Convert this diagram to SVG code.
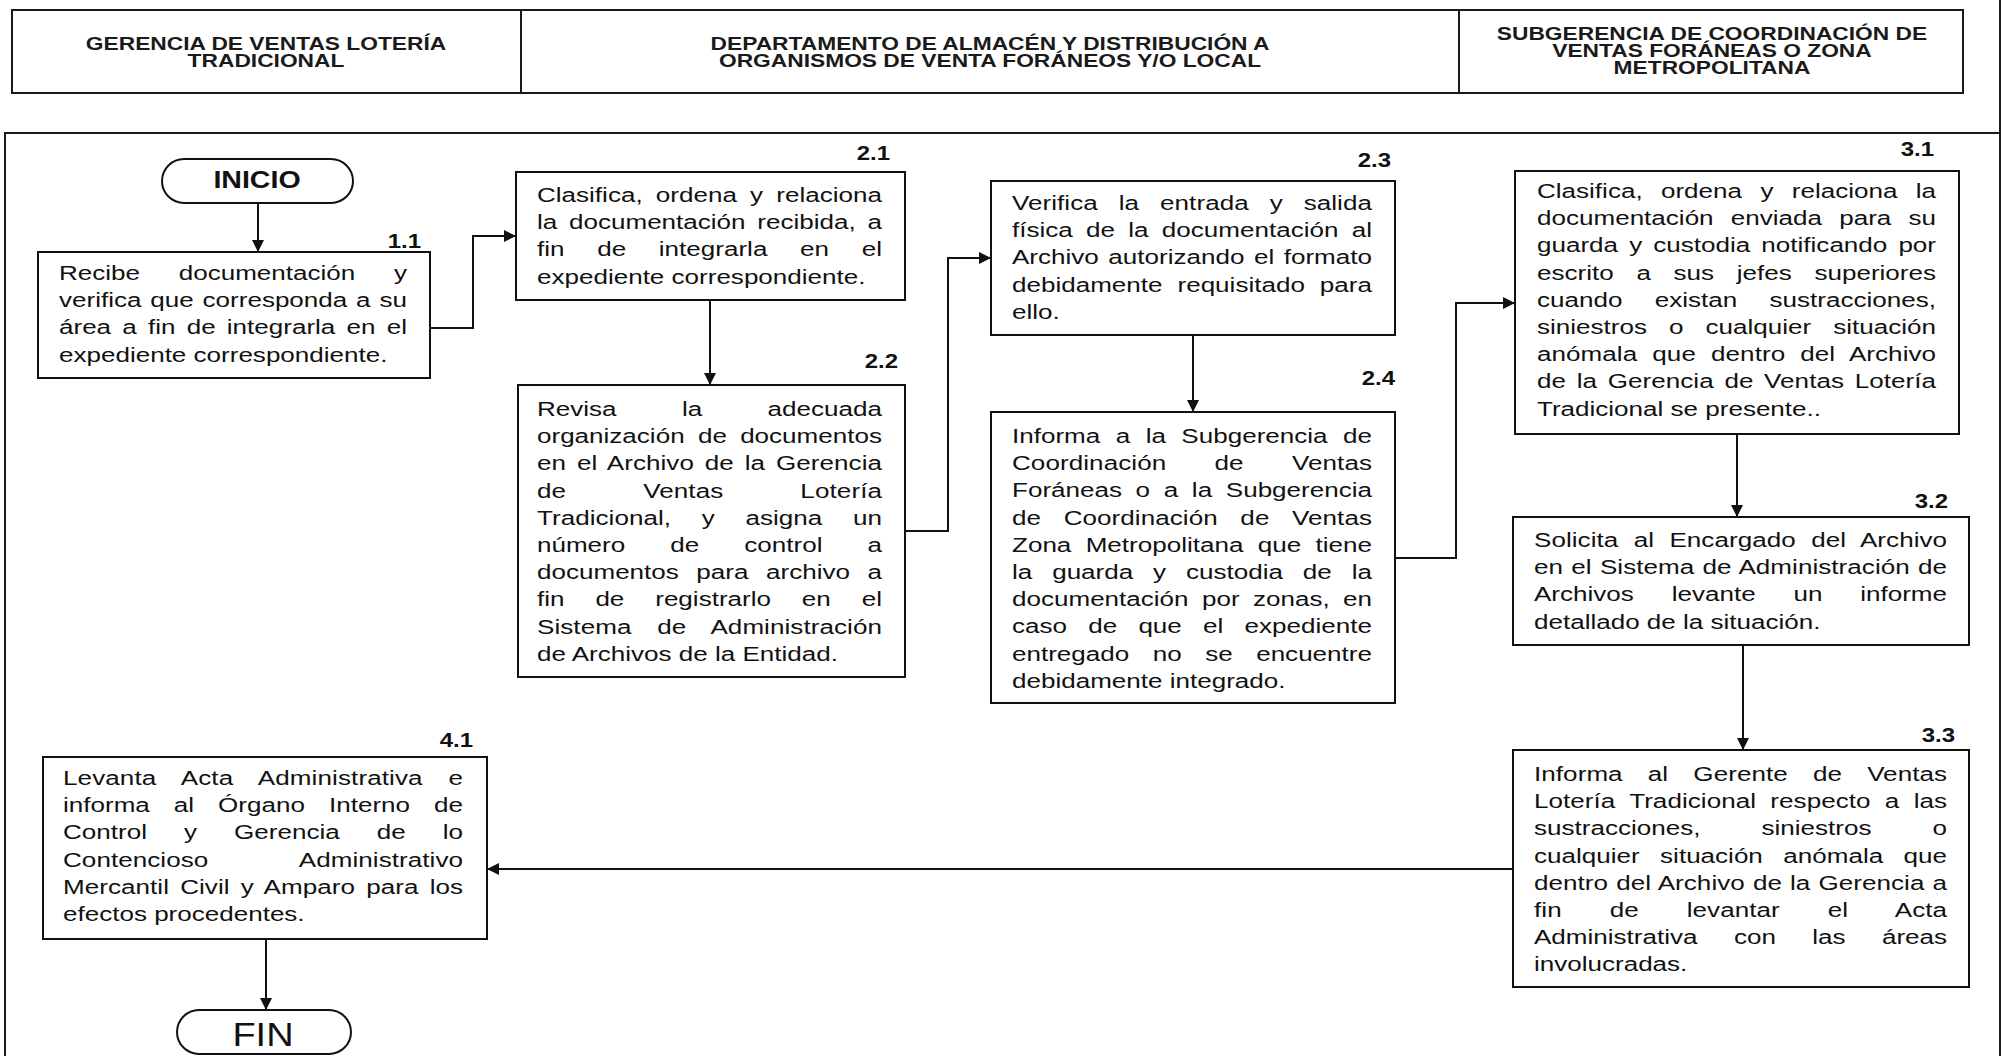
<svg xmlns="http://www.w3.org/2000/svg" width="2002" height="1056" viewBox="0 0 2002 1056">
<style>
.bg{fill:#fff}
.frame{fill:none;stroke:#1a1a1a;stroke-width:2}
.box{fill:#fff;stroke:#111;stroke-width:2}
.term{fill:#fff;stroke:#111;stroke-width:2}
.h{font-family:"Liberation Sans",Arial,sans-serif;font-size:18px;font-weight:bold;fill:#1a1a1a;text-anchor:middle}
.t{font-family:"Liberation Sans",Arial,sans-serif;font-size:21px;fill:#111}
.lb{font-family:"Liberation Sans",Arial,sans-serif;font-size:20px;font-weight:bold;fill:#111;text-anchor:end}
.ti{font-family:"Liberation Sans",Arial,sans-serif;font-size:24px;font-weight:bold;fill:#111;text-anchor:middle}
.tf{font-family:"Liberation Sans",Arial,sans-serif;font-size:33px;fill:#111;text-anchor:middle}
.conn{fill:none;stroke:#111;stroke-width:2}
</style>
<defs>
<marker id="arr" markerUnits="userSpaceOnUse" markerWidth="14" markerHeight="14" refX="12" refY="6" orient="auto">
<path d="M0,0 L12,6 L0,12 z" fill="#111"/>
</marker>
</defs>
<rect class="bg" x="0" y="0" width="2002" height="1056"/>

<g id="header">
<rect class="frame" x="12" y="10" width="1951" height="83"/>
<line class="frame" x1="521" y1="10" x2="521" y2="93"/>
<line class="frame" x1="1459" y1="10" x2="1459" y2="93"/>
<text class="h" transform="translate(266 50) scale(1.265 1)">GERENCIA DE VENTAS LOTERÍA</text>
<text class="h" transform="translate(266 67) scale(1.265 1)">TRADICIONAL</text>
<text class="h" transform="translate(990 50) scale(1.265 1)">DEPARTAMENTO DE ALMACÉN Y DISTRIBUCIÓN A</text>
<text class="h" transform="translate(990 67) scale(1.265 1)">ORGANISMOS DE VENTA FORÁNEOS Y/O LOCAL</text>
<text class="h" transform="translate(1712 40) scale(1.265 1)">SUBGERENCIA DE COORDINACIÓN DE</text>
<text class="h" transform="translate(1712 57) scale(1.265 1)">VENTAS FORÁNEAS O ZONA</text>
<text class="h" transform="translate(1712 74) scale(1.265 1)">METROPOLITANA</text>
</g>

<g id="frame">
<polyline class="frame" points="5,1056 5,133 2000,133"/>
<line class="frame" x1="2000" y1="0" x2="2000" y2="1056"/>
</g>

<g id="connectors">
<path class="conn" d="M258,203 V252" marker-end="url(#arr)"/>
<path class="conn" d="M430,328 H473 V236 H516" marker-end="url(#arr)"/>
<path class="conn" d="M710,300 V385" marker-end="url(#arr)"/>
<path class="conn" d="M905,531 H948 V258 H991" marker-end="url(#arr)"/>
<path class="conn" d="M1193,335 V412" marker-end="url(#arr)"/>
<path class="conn" d="M1395,558 H1456 V303 H1515" marker-end="url(#arr)"/>
<path class="conn" d="M1737,434 V517" marker-end="url(#arr)"/>
<path class="conn" d="M1743,645 V750" marker-end="url(#arr)"/>
<path class="conn" d="M1513,869 H487" marker-end="url(#arr)"/>
<path class="conn" d="M266,939 V1010" marker-end="url(#arr)"/>
</g>

<g id="inicio">
<rect class="term" x="162" y="159" width="191" height="44" rx="22" ry="22"/>
<text class="ti" transform="translate(257 188) scale(1.19 1)">INICIO</text>
</g>

<g id="n1_1">
<rect class="box" x="38" y="252" width="392" height="126"/>
<text class="lb" transform="translate(421 248) scale(1.2 1)">1.1</text>
<g transform="translate(59 0) scale(1.24 1)">
<text class="t" x="0" y="280" word-spacing="25.3" textLength="280.6" lengthAdjust="spacing">Recibe documentación y</text>
<text class="t" x="0" y="307.2" word-spacing="1.29" textLength="280.6" lengthAdjust="spacing">verifica que corresponda a su</text>
<text class="t" x="0" y="334.4" word-spacing="3.19" textLength="280.6" lengthAdjust="spacing">área a fin de integrarla en el</text>
<text class="t" x="0" y="361.6">expediente correspondiente.</text>
</g>
</g>

<g id="n2_1">
<rect class="box" x="516" y="172" width="389" height="128"/>
<text class="lb" transform="translate(890 160) scale(1.2 1)">2.1</text>
<g transform="translate(537 0) scale(1.24 1)">
<text class="t" x="0" y="202" word-spacing="4.82" textLength="278.2" lengthAdjust="spacing">Clasifica, ordena y relaciona</text>
<text class="t" x="0" y="229.2" word-spacing="3.65" textLength="278.2" lengthAdjust="spacing">la documentación recibida, a</text>
<text class="t" x="0" y="256.4" word-spacing="20.5" textLength="278.2" lengthAdjust="spacing">fin de integrarla en el</text>
<text class="t" x="0" y="283.6">expediente correspondiente.</text>
</g>
</g>

<g id="n2_2">
<rect class="box" x="518" y="385" width="387" height="292"/>
<text class="lb" transform="translate(898 368) scale(1.2 1)">2.2</text>
<g transform="translate(537 0) scale(1.24 1)">
<text class="t" x="0" y="416" word-spacing="46.9" textLength="278.2" lengthAdjust="spacing">Revisa la adecuada</text>
<text class="t" x="0" y="443.2" word-spacing="4.88" textLength="278.2" lengthAdjust="spacing">organización de documentos</text>
<text class="t" x="0" y="470.4" word-spacing="2.89" textLength="278.2" lengthAdjust="spacing">en el Archivo de la Gerencia</text>
<text class="t" x="0" y="497.6" word-spacing="56.2" textLength="278.2" lengthAdjust="spacing">de Ventas Lotería</text>
<text class="t" x="0" y="524.8" word-spacing="18.8" textLength="278.2" lengthAdjust="spacing">Tradicional, y asigna un</text>
<text class="t" x="0" y="552" word-spacing="30.5" textLength="278.2" lengthAdjust="spacing">número de control a</text>
<text class="t" x="0" y="579.2" word-spacing="8.32" textLength="278.2" lengthAdjust="spacing">documentos para archivo a</text>
<text class="t" x="0" y="606.4" word-spacing="19.1" textLength="278.2" lengthAdjust="spacing">fin de registrarlo en el</text>
<text class="t" x="0" y="633.6" word-spacing="14.8" textLength="278.2" lengthAdjust="spacing">Sistema de Administración</text>
<text class="t" x="0" y="660.8">de Archivos de la Entidad.</text>
</g>
</g>

<g id="n2_3">
<rect class="box" x="991" y="181" width="404" height="154"/>
<text class="lb" transform="translate(1391 167) scale(1.2 1)">2.3</text>
<g transform="translate(1012 0) scale(1.24 1)">
<text class="t" x="0" y="210" word-spacing="11.0" textLength="290.3" lengthAdjust="spacing">Verifica la entrada y salida</text>
<text class="t" x="0" y="237.2" word-spacing="4.88" textLength="290.3" lengthAdjust="spacing">física de la documentación al</text>
<text class="t" x="0" y="264.4" word-spacing="1.85" textLength="290.3" lengthAdjust="spacing">Archivo autorizando el formato</text>
<text class="t" x="0" y="291.6" word-spacing="6.26" textLength="290.3" lengthAdjust="spacing">debidamente requisitado para</text>
<text class="t" x="0" y="318.8">ello.</text>
</g>
</g>

<g id="n2_4">
<rect class="box" x="991" y="412" width="404" height="291"/>
<text class="lb" transform="translate(1395 385) scale(1.2 1)">2.4</text>
<g transform="translate(1012 0) scale(1.24 1)">
<text class="t" x="0" y="443" word-spacing="6.63" textLength="290.3" lengthAdjust="spacing">Informa a la Subgerencia de</text>
<text class="t" x="0" y="470.2" word-spacing="33.1" textLength="290.3" lengthAdjust="spacing">Coordinación de Ventas</text>
<text class="t" x="0" y="497.4" word-spacing="5.17" textLength="290.3" lengthAdjust="spacing">Foráneas o a la Subgerencia</text>
<text class="t" x="0" y="524.6" word-spacing="12.34" textLength="290.3" lengthAdjust="spacing">de Coordinación de Ventas</text>
<text class="t" x="0" y="551.8" word-spacing="5.73" textLength="290.3" lengthAdjust="spacing">Zona Metropolitana que tiene</text>
<text class="t" x="0" y="579" word-spacing="10.2" textLength="290.3" lengthAdjust="spacing">la guarda y custodia de la</text>
<text class="t" x="0" y="606.2" word-spacing="4.95" textLength="290.3" lengthAdjust="spacing">documentación por zonas, en</text>
<text class="t" x="0" y="633.4" word-spacing="11.29" textLength="290.3" lengthAdjust="spacing">caso de que el expediente</text>
<text class="t" x="0" y="660.6" word-spacing="13.1" textLength="290.3" lengthAdjust="spacing">entregado no se encuentre</text>
<text class="t" x="0" y="687.8">debidamente integrado.</text>
</g>
</g>

<g id="n3_1">
<rect class="box" x="1515" y="171" width="444" height="263"/>
<text class="lb" transform="translate(1934 156) scale(1.2 1)">3.1</text>
<g transform="translate(1537 0) scale(1.24 1)">
<text class="t" x="0" y="198" word-spacing="8.96" textLength="321.8" lengthAdjust="spacing">Clasifica, ordena y relaciona la</text>
<text class="t" x="0" y="225.2" word-spacing="8.04" textLength="321.8" lengthAdjust="spacing">documentación enviada para su</text>
<text class="t" x="0" y="252.4" word-spacing="3.11" textLength="321.8" lengthAdjust="spacing">guarda y custodia notificando por</text>
<text class="t" x="0" y="279.6" word-spacing="12.46" textLength="321.8" lengthAdjust="spacing">escrito a sus jefes superiores</text>
<text class="t" x="0" y="306.8" word-spacing="20.2" textLength="321.8" lengthAdjust="spacing">cuando existan sustracciones,</text>
<text class="t" x="0" y="334" word-spacing="11.95" textLength="321.8" lengthAdjust="spacing">siniestros o cualquier situación</text>
<text class="t" x="0" y="361.2" word-spacing="6.33" textLength="321.8" lengthAdjust="spacing">anómala que dentro del Archivo</text>
<text class="t" x="0" y="388.4" word-spacing="2.72" textLength="321.8" lengthAdjust="spacing">de la Gerencia de Ventas Lotería</text>
<text class="t" x="0" y="415.6">Tradicional se presente..</text>
</g>
</g>

<g id="n3_2">
<rect class="box" x="1513" y="517" width="456" height="128"/>
<text class="lb" transform="translate(1948 508) scale(1.2 1)">3.2</text>
<g transform="translate(1534 0) scale(1.24 1)">
<text class="t" x="0" y="547" word-spacing="6.53" textLength="333.1" lengthAdjust="spacing">Solicita al Encargado del Archivo</text>
<text class="t" x="0" y="574.2" word-spacing="0.79" textLength="333.1" lengthAdjust="spacing">en el Sistema de Administración de</text>
<text class="t" x="0" y="601.4" word-spacing="24.65" textLength="333.1" lengthAdjust="spacing">Archivos levante un informe</text>
<text class="t" x="0" y="628.6">detallado de la situación.</text>
</g>
</g>

<g id="n3_3">
<rect class="box" x="1513" y="750" width="456" height="237"/>
<text class="lb" transform="translate(1955 742) scale(1.2 1)">3.3</text>
<g transform="translate(1534 0) scale(1.24 1)">
<text class="t" x="0" y="781" word-spacing="14.4" textLength="333.1" lengthAdjust="spacing">Informa al Gerente de Ventas</text>
<text class="t" x="0" y="808.2" word-spacing="5.65" textLength="333.1" lengthAdjust="spacing">Lotería Tradicional respecto a las</text>
<text class="t" x="0" y="835.4" word-spacing="43.4" textLength="333.1" lengthAdjust="spacing">sustracciones, siniestros o</text>
<text class="t" x="0" y="862.6" word-spacing="10.64" textLength="333.1" lengthAdjust="spacing">cualquier situación anómala que</text>
<text class="t" x="0" y="889.8" word-spacing="0.65" textLength="333.1" lengthAdjust="spacing">dentro del Archivo de la Gerencia a</text>
<text class="t" x="0" y="917" word-spacing="32.8" textLength="333.1" lengthAdjust="spacing">fin de levantar el Acta</text>
<text class="t" x="0" y="944.2" word-spacing="23.5" textLength="333.1" lengthAdjust="spacing">Administrativa con las áreas</text>
<text class="t" x="0" y="971.4">involucradas.</text>
</g>
</g>

<g id="n4_1">
<rect class="box" x="43" y="757" width="444" height="182"/>
<text class="lb" transform="translate(473 747) scale(1.2 1)">4.1</text>
<g transform="translate(63 0) scale(1.24 1)">
<text class="t" x="0" y="785" word-spacing="14.93" textLength="322.6" lengthAdjust="spacing">Levanta Acta Administrativa e</text>
<text class="t" x="0" y="812.2" word-spacing="13.53" textLength="322.6" lengthAdjust="spacing">informa al Órgano Interno de</text>
<text class="t" x="0" y="839.4" word-spacing="24.04" textLength="322.6" lengthAdjust="spacing">Control y Gerencia de lo</text>
<text class="t" x="0" y="866.6" word-spacing="68.2" textLength="322.6" lengthAdjust="spacing">Contencioso Administrativo</text>
<text class="t" x="0" y="893.8" word-spacing="3.14" textLength="322.6" lengthAdjust="spacing">Mercantil Civil y Amparo para los</text>
<text class="t" x="0" y="921">efectos procedentes.</text>
</g>
</g>

<g id="fin">
<rect class="term" x="177" y="1010" width="174" height="44" rx="22" ry="22"/>
<text class="tf" transform="translate(263 1046) scale(1.15 1)">FIN</text>
</g>
</svg>
